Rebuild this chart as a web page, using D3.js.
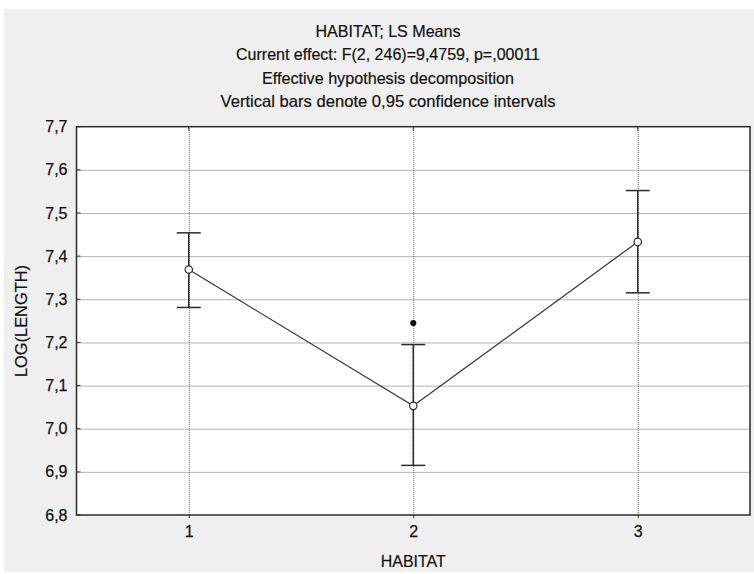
<!DOCTYPE html>
<html><head><meta charset="utf-8">
<script src="https://cdn.jsdelivr.net/npm/d3@7"></script>
<style>
html,body{margin:0;padding:0;background:#fff;}
svg{display:block;}
text{font-family:"Liberation Sans",Arial,sans-serif;fill:#111;}
</style></head>
<body>
<svg id="chart" width="754" height="574"></svg>
<script>
// ---- data ----
const categories = [1, 2, 3];
const means = [7.369, 7.053, 7.433];
const ciLower = [7.281, 6.915, 7.315];
const ciUpper = [7.454, 7.195, 7.552];
const markCategory = [2];
const markValue = [7.245];
const yTicks = [6.8, 6.9, 7.0, 7.1, 7.2, 7.3, 7.4, 7.5, 7.6, 7.7];
const titleLines = [
  "HABITAT; LS Means",
  "Current effect: F(2, 246)=9,4759, p=,00011",
  "Effective hypothesis decomposition",
  "Vertical bars denote 0,95 confidence intervals"
];
const titleWidths = [145, 304, 252, 335];
const xLabel = "HABITAT";
const yLabel = "LOG(LENGTH)";

// ---- layout ----
const svg = d3.select("#chart");
const L = 76.5, R = 750, T = 126.7, B = 515;

svg.append("rect").attr("x", 4).attr("y", 9).attr("width", 750).attr("height", 563).attr("fill", "#efefef");
svg.append("rect").attr("x", L).attr("y", T).attr("width", R - L).attr("height", B - T).attr("fill", "#fff");

const x = d3.scaleLinear().domain([0.5, 3.5]).range([L, R]);
const y = d3.scaleLinear().domain([6.8, 7.7]).range([B, T]);
const fmt = d => d3.format(".1f")(d).replace(".", ",");

// grid lines
const gy = svg.append("g").attr("transform", `translate(${L},0)`)
  .call(d3.axisLeft(y).tickValues(yTicks.slice(1, -1)).tickSize(-(R - L)).tickFormat(""));
gy.select(".domain").remove();
gy.selectAll("line").attr("stroke", "#666").attr("stroke-width", 1).attr("stroke-dasharray", "1,1");
const gx = svg.append("g").attr("transform", `translate(0,${B})`)
  .call(d3.axisBottom(x).tickValues(categories).tickSize(-(B - T)).tickFormat(""));
gx.select(".domain").remove();
gx.selectAll("line").attr("stroke", "#666").attr("stroke-width", 1).attr("stroke-dasharray", "1,1");

// axes labels/ticks
const ay = svg.append("g").attr("transform", `translate(${L},0)`)
  .call(d3.axisLeft(y).tickValues(yTicks).tickSize(0).tickPadding(9).tickFormat(fmt));
ay.select(".domain").remove();
ay.selectAll("text").attr("font-size", 16).attr("font-family", "Liberation Sans, Arial, sans-serif")
  .attr("fill", "#111").attr("stroke", "#111").attr("stroke-width", 0.25);
// inward short ticks on left
svg.append("g").selectAll("line").data(yTicks).join("line")
  .attr("x1", L).attr("x2", L + 4).attr("y1", d => y(d)).attr("y2", d => y(d))
  .attr("stroke", "#333").attr("stroke-width", 1);

const ax = svg.append("g").attr("transform", `translate(0,${B})`)
  .call(d3.axisBottom(x).tickValues(categories).tickSize(3).tickPadding(8).tickFormat(d3.format("d")));
ax.select(".domain").remove();
ax.selectAll("line").attr("stroke", "#333");
ax.selectAll("text").attr("font-size", 16).attr("font-family", "Liberation Sans, Arial, sans-serif")
  .attr("fill", "#111").attr("stroke", "#111").attr("stroke-width", 0.25);
// top inward ticks
svg.append("g").selectAll("line").data(categories).join("line")
  .attr("x1", d => x(d)).attr("x2", d => x(d)).attr("y1", T).attr("y2", T + 4)
  .attr("stroke", "#333").attr("stroke-width", 1);

// plot frame
svg.append("rect").attr("x", L).attr("y", T).attr("width", R - L).attr("height", B - T)
  .attr("fill", "none").attr("stroke", "#2a2a2a").attr("stroke-width", 1.5);

// titles
svg.append("g").selectAll("text").data(titleLines).join("text")
  .attr("x", 388).attr("y", (d, i) => 36.5 + i * 23.5)
  .attr("text-anchor", "middle").attr("font-size", 16.5)
  .attr("stroke", "#111").attr("stroke-width", 0.2)
  .attr("textLength", (d, i) => titleWidths[i]).attr("lengthAdjust", "spacingAndGlyphs")
  .text(d => d);

svg.append("text").attr("x", (L + R) / 2).attr("y", 567).attr("text-anchor", "middle")
  .attr("font-size", 16.5).attr("stroke", "#111").attr("stroke-width", 0.2)
  .attr("textLength", 65).attr("lengthAdjust", "spacingAndGlyphs").text(xLabel);
svg.append("text").attr("transform", "translate(27,321) rotate(-90)").attr("text-anchor", "middle")
  .attr("font-size", 16.5).attr("stroke", "#111").attr("stroke-width", 0.2)
  .attr("textLength", 112).attr("lengthAdjust", "spacingAndGlyphs").text(yLabel);

// error bars
const eb = svg.append("g").attr("stroke", "#2a2a2a").attr("stroke-width", 1.5).attr("fill", "none");
categories.forEach((c, i) => {
  eb.append("line").attr("x1", x(c)).attr("x2", x(c)).attr("y1", y(ciLower[i])).attr("y2", y(ciUpper[i]));
  eb.append("line").attr("x1", x(c) - 12).attr("x2", x(c) + 12).attr("y1", y(ciLower[i])).attr("y2", y(ciLower[i]));
  eb.append("line").attr("x1", x(c) - 12).attr("x2", x(c) + 12).attr("y1", y(ciUpper[i])).attr("y2", y(ciUpper[i]));
});

// mean line
const line = d3.line().x((d, i) => x(categories[i])).y(d => y(d));
svg.append("path").datum(means).attr("d", line).attr("fill", "none").attr("stroke", "#333").attr("stroke-width", 1.2);

// points
svg.append("g").selectAll("circle").data(means).join("circle")
  .attr("cx", (d, i) => x(categories[i])).attr("cy", d => y(d)).attr("r", 3.7)
  .attr("fill", "#fff").attr("stroke", "#2a2a2a").attr("stroke-width", 1.2);

// significance mark
svg.append("g").selectAll("path").data(markValue).join("path")
  .attr("transform", (d, i) => `translate(${x(markCategory[i])},${y(d)})`)
  .attr("d", d3.symbol().type(d3.symbolCircle).size(30)).attr("fill", "#111");
</script>
</body></html>
